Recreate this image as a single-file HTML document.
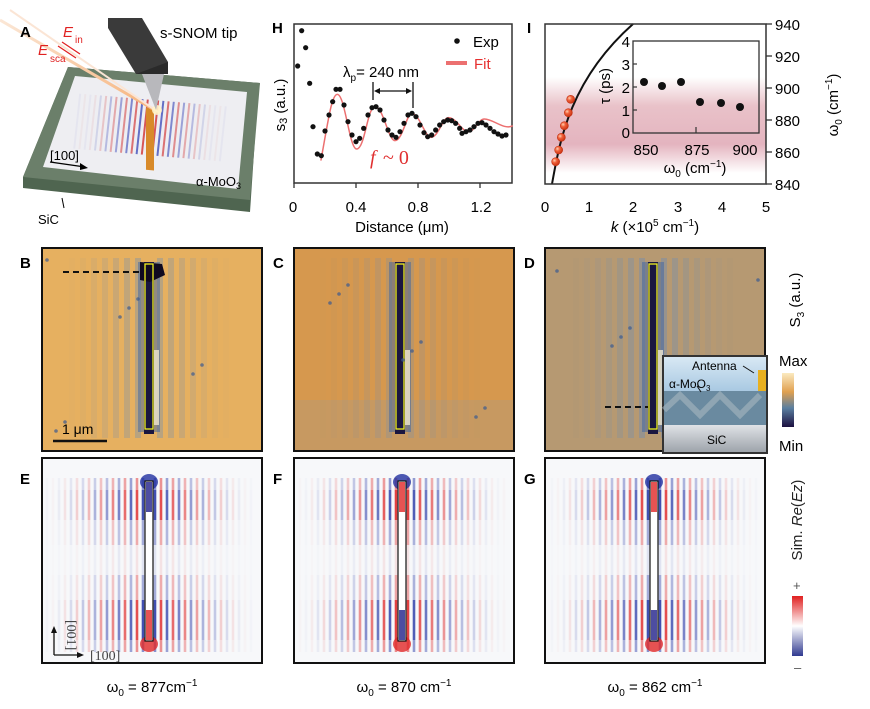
<!DOCTYPE html>
<html><head><meta charset="utf-8"><style>
html,body{margin:0;padding:0;background:#fff}
body{width:870px;height:709px;position:relative;overflow:hidden;font-family:"Liberation Sans",sans-serif}
svg{position:absolute;left:0;top:0}
</style></head><body>
<svg id="s" width="870" height="709" viewBox="0 0 870 709" font-family="Liberation Sans, sans-serif">
<defs>
<linearGradient id="pink" x1="0" y1="0" x2="0" y2="1">
<stop offset="0" stop-color="#fff"/><stop offset="0.3" stop-color="#e9c2c9"/><stop offset="0.7" stop-color="#e4b4bf"/><stop offset="1" stop-color="#fff"/></linearGradient>
<linearGradient id="cbar1" x1="0" y1="0" x2="0" y2="1"><stop offset="0" stop-color="#fbeac0"/><stop offset="0.35" stop-color="#e0a050"/><stop offset="0.65" stop-color="#5a7fa0"/><stop offset="1" stop-color="#1c1040"/></linearGradient>
<linearGradient id="cbar2" x1="0" y1="0" x2="0" y2="1"><stop offset="0" stop-color="#e02020"/><stop offset="0.5" stop-color="#ffffff"/><stop offset="1" stop-color="#303a90"/></linearGradient>
<linearGradient id="ins" x1="0" y1="0" x2="0" y2="1"><stop offset="0" stop-color="#d8e8f4"/><stop offset="1" stop-color="#a9c9e2"/></linearGradient>
<linearGradient id="sic" x1="0" y1="0" x2="0" y2="1"><stop offset="0" stop-color="#dfe2e6"/><stop offset="1" stop-color="#9ea4ab"/></linearGradient>
<linearGradient id="beam" x1="0" y1="0" x2="1" y2="1"><stop offset="0" stop-color="#fbe7d6"/><stop offset="1" stop-color="#f6b27a"/></linearGradient>
<radialGradient id="ball" cx="0.35" cy="0.35" r="0.7"><stop offset="0" stop-color="#ffd0b0"/><stop offset="0.4" stop-color="#f0603a"/><stop offset="1" stop-color="#c83010"/></radialGradient>
</defs>

<!-- Panel A -->
<polygon points="68,67 260,83 258,93 250,212 23,188 23,177" fill="#4f6550"/>
<polygon points="68,67 260,83 250,200 23,177" fill="#6b7f6a"/>
<polygon points="75,76 247,92 238,189 43,167" fill="#eeeef2"/>
<g id="astripes"></g>
<rect x="146" y="95" width="8" height="62" fill="#d88a2a" transform="skewY(5)"/>
<line x1="0" y1="20" x2="158" y2="112" stroke="url(#beam)" stroke-width="3"/>
<line x1="10" y1="10" x2="158" y2="112" stroke="#fbe5d5" stroke-width="2"/>
<circle cx="157" cy="110" r="5" fill="#fff3c8" opacity="0.9"/>
<polygon points="108,18 142,18 168,62 168,74 136,74 108,28" fill="#3a3a3a"/>
<polygon points="136,74 168,74 168,62" fill="#2a2a2a"/>
<polygon points="142,74 164,74 156,110" fill="#b8b8bc"/>
<text x="20" y="37" font-size="15" font-weight="bold">A</text>
<text x="160" y="38" font-size="15">s-SNOM tip</text>
<text x="63" y="37" font-size="15" fill="#e02020" font-style="italic">E</text><text x="75" y="43" font-size="10" fill="#e02020">in</text>
<text x="38" y="55" font-size="15" fill="#e02020" font-style="italic">E</text><text x="50" y="62" font-size="10" fill="#e02020">sca</text>
<line x1="62" y1="42" x2="80" y2="54" stroke="#e02020" stroke-width="1.2"/><line x1="58" y1="46" x2="76" y2="58" stroke="#e02020" stroke-width="1.2"/>
<text x="50" y="160" font-size="13">[100]</text>
<line x1="50" y1="162" x2="85" y2="167" stroke="#000" stroke-width="1.3"/><polygon points="88,168 80,163 80,170" fill="#000"/>
<text x="196" y="186" font-size="13">α-MoO<tspan font-size="9" dy="3">3</tspan></text>
<line x1="62" y1="198" x2="64" y2="208" stroke="#000"/>
<text x="38" y="224" font-size="13">SiC</text>

<!-- Panel H -->
<text x="272" y="33" font-size="15" font-weight="bold">H</text>
<rect x="294" y="24" width="218" height="159" fill="none" stroke="#333" stroke-width="1.5"/>
<path id="fit" fill="none" stroke="#ec7070" stroke-width="4.5" stroke-linecap="round"
 d="M183,480 C205,360 215,283 232,283 C255,283 268,447 290,447 C315,447 322,320 345,320 C370,320 385,422 405,422 C428,422 440,340 455,340 C478,340 495,412 513,412 C535,412 548,353 565,353 C590,353 605,395 625,395 C645,395 655,357 673,357 C700,357 730,390 757,378" transform="translate(260,0) scale(0.3333)"/>
<g id="hdots" fill="#111"></g>
<g stroke="#333" stroke-width="1.3"><line x1="294" y1="183" x2="294" y2="188"/><line x1="356" y1="183" x2="356" y2="188"/><line x1="418" y1="183" x2="418" y2="188"/><line x1="480" y1="183" x2="480" y2="188"/></g>
<g font-size="15" text-anchor="middle"><text x="293" y="212">0</text><text x="356" y="212">0.4</text><text x="418" y="212">0.8</text><text x="481" y="212">1.2</text>
<text x="402" y="232">Distance (μm)</text></g>
<text transform="translate(285,105) rotate(-90)" font-size="15" text-anchor="middle">s<tspan font-size="11" dy="2">3</tspan><tspan dy="-2"> (a.u.)</tspan></text>
<circle cx="457" cy="41" r="2.8" fill="#111"/><text x="473" y="47" font-size="15">Exp</text>
<line x1="446" y1="63" x2="467" y2="63" stroke="#ec7070" stroke-width="4"/><text x="474" y="69" font-size="15" fill="#e63030">Fit</text>
<text x="343" y="77" font-size="15">λ<tspan font-size="10" dy="4">p</tspan><tspan dy="-4">= 240 nm</tspan></text>
<line x1="373" y1="82" x2="373" y2="100" stroke="#111" stroke-width="1.3"/><line x1="413" y1="82" x2="413" y2="108" stroke="#111" stroke-width="1.3"/>
<line x1="377" y1="91" x2="409" y2="91" stroke="#111" stroke-width="1.3"/><polygon points="374,91 380,88 380,94" fill="#111"/><polygon points="412,91 406,88 406,94" fill="#111"/>
<text x="370" y="164" font-size="20" fill="#e03030" font-family="Liberation Serif, serif" font-style="italic">f</text><text x="383" y="164" font-size="20" fill="#e03030" font-family="Liberation Serif, serif">~ 0</text>

<!-- Panel I -->
<text x="527" y="33" font-size="15" font-weight="bold">I</text>
<rect x="545" y="77" width="221" height="96" fill="url(#pink)"/>
<path d="M552,184 C560,140 570,80 633,24" fill="none" stroke="#111" stroke-width="2"/>
<g id="ibal"></g>
<rect x="545" y="24" width="221" height="160" fill="none" stroke="#333" stroke-width="1.5"/>
<g stroke="#333" stroke-width="1.3"><line x1="766" y1="24" x2="772" y2="24"/><line x1="766" y1="56" x2="772" y2="56"/><line x1="766" y1="88" x2="772" y2="88"/><line x1="766" y1="120" x2="772" y2="120"/><line x1="766" y1="152" x2="772" y2="152"/><line x1="766" y1="184" x2="772" y2="184"/></g>
<g font-size="15"><text x="775" y="30">940</text><text x="775" y="62">920</text><text x="775" y="94">900</text><text x="775" y="126">880</text><text x="775" y="158">860</text><text x="775" y="190">840</text></g>
<g font-size="15" text-anchor="middle"><text x="545" y="212">0</text><text x="589" y="212">1</text><text x="633" y="212">2</text><text x="678" y="212">3</text><text x="722" y="212">4</text><text x="766" y="212">5</text>
<text x="655" y="232"><tspan font-style="italic">k</tspan> (×10<tspan font-size="10" dy="-6">5</tspan><tspan dy="6"> cm</tspan><tspan font-size="10" dy="-6">−1</tspan><tspan dy="6">)</tspan></text></g>
<text transform="translate(838,105) rotate(-90)" font-size="15" text-anchor="middle">ω<tspan font-size="10" dy="4">0</tspan><tspan dy="-4"> (cm</tspan><tspan font-size="10" dy="-6">−1</tspan><tspan dy="6">)</tspan></text>
<rect x="633" y="41" width="126" height="92" fill="none" stroke="#333" stroke-width="1.3"/>
<g font-size="15" text-anchor="end"><text x="630" y="47">4</text><text x="630" y="70">3</text><text x="630" y="93">2</text><text x="630" y="116">1</text><text x="630" y="138">0</text></g>
<g stroke="#333" stroke-width="1.2"><line x1="633" y1="64" x2="637" y2="64"/><line x1="633" y1="87" x2="637" y2="87"/><line x1="633" y1="110" x2="637" y2="110"/><line x1="696" y1="133" x2="696" y2="127"/></g>
<g font-size="15" text-anchor="middle"><text x="646" y="155">850</text><text x="697" y="155">875</text><text x="745" y="155">900</text>
<text x="695" y="173">ω<tspan font-size="10" dy="4">0</tspan><tspan dy="-4"> (cm</tspan><tspan font-size="10" dy="-6">−1</tspan><tspan dy="6">)</tspan></text></g>
<text transform="translate(610,86) rotate(-90)" font-size="15" text-anchor="middle">τ (ps)</text>
<g fill="#111"><circle cx="644" cy="82" r="4"/><circle cx="662" cy="86" r="4"/><circle cx="681" cy="82" r="4"/><circle cx="700" cy="102" r="4"/><circle cx="721" cy="103" r="4"/><circle cx="740" cy="107" r="4"/></g>

<!-- Row B C D -->
<g id="bcd"></g>
<text x="20" y="268" font-size="15" font-weight="bold">B</text>
<text x="273" y="268" font-size="15" font-weight="bold">C</text>
<text x="524" y="268" font-size="15" font-weight="bold">D</text>
<line x1="63" y1="272" x2="143" y2="272" stroke="#111" stroke-width="2" stroke-dasharray="6,4"/>
<line x1="605" y1="407" x2="648" y2="407" stroke="#111" stroke-width="2" stroke-dasharray="6,4"/>
<line x1="53" y1="441" x2="107" y2="441" stroke="#111" stroke-width="2.5"/>
<text x="62" y="434" font-size="14">1 μm</text>
<rect x="662" y="355" width="106" height="99" fill="#333"/>
<rect x="664" y="357" width="102" height="34" fill="url(#ins)"/>
<rect x="664" y="391" width="102" height="34" fill="#6a8aa0"/>
<path d="M664,410 L680,395 L700,415 L720,395 L740,415 L760,395" stroke="#a8b8c0" stroke-width="6" fill="none" opacity="0.6"/>
<rect x="758" y="370" width="8" height="21" fill="#e8b020"/>
<rect x="664" y="425" width="102" height="27" fill="url(#sic)"/>
<text x="692" y="370" font-size="12">Antenna</text>
<text x="669" y="388" font-size="12">α-MoO<tspan font-size="8" dy="3">3</tspan></text>
<text x="707" y="444" font-size="12">SiC</text>
<line x1="743" y1="366" x2="754" y2="373" stroke="#111"/><line x1="697" y1="386" x2="701" y2="392" stroke="#111"/>
<rect x="782" y="373" width="12" height="54" fill="url(#cbar1)"/>
<text x="779" y="366" font-size="15">Max</text><text x="779" y="451" font-size="15">Min</text>
<text transform="translate(800,300) rotate(-90)" font-size="15" text-anchor="middle">S<tspan font-size="10" dy="4">3</tspan><tspan dy="-4"> (a.u.)</tspan></text>

<!-- Row E F G -->
<g id="efg"></g>
<text x="20" y="484" font-size="15" font-weight="bold">E</text>
<text x="273" y="484" font-size="15" font-weight="bold">F</text>
<text x="524" y="484" font-size="15" font-weight="bold">G</text>
<line x1="54" y1="655" x2="54" y2="630" stroke="#111" stroke-width="1.3"/><polygon points="54,626 51,633 57,633" fill="#111"/>
<line x1="54" y1="655" x2="80" y2="655" stroke="#111" stroke-width="1.3"/><polygon points="84,655 77,652 77,658" fill="#111"/>
<text x="90" y="660" font-size="14" font-family="Liberation Serif, serif" fill="#444">[100]</text>
<text transform="translate(67,620) rotate(90)" font-size="14" font-family="Liberation Serif, serif" fill="#444">[001]</text>
<rect x="792" y="596" width="11" height="60" fill="url(#cbar2)"/>
<text x="793" y="590" font-size="13" fill="#555">+</text><text x="794" y="672" font-size="13" fill="#555">–</text>
<text transform="translate(802,520) rotate(-90)" font-size="15" text-anchor="middle" fill="#222">Sim. <tspan font-style="italic">Re</tspan>(<tspan font-style="italic">Ez</tspan>)</text>
<g font-size="15" text-anchor="middle">
<text x="152" y="692">ω<tspan font-size="10" dy="4">0</tspan><tspan dy="-4"> = 877cm</tspan><tspan font-size="10" dy="-6">−1</tspan></text>
<text x="404" y="692">ω<tspan font-size="10" dy="4">0</tspan><tspan dy="-4"> = 870 cm</tspan><tspan font-size="10" dy="-6">−1</tspan></text>
<text x="655" y="692">ω<tspan font-size="10" dy="4">0</tspan><tspan dy="-4"> = 862 cm</tspan><tspan font-size="10" dy="-6">−1</tspan></text></g>
</svg>
<script>
const NS="http://www.w3.org/2000/svg";
function el(t,a,p){const e=document.createElementNS(NS,t);for(const k in a)e.setAttribute(k,a[k]);p.appendChild(e);return e;}
const hd=[[113,198],[125,92],[137,143],[149,250],[159,380],[172,462],[184,467],[195,393],[207,345],[218,305],[228,268],[240,268],[252,315],[264,365],[276,405],[288,425],[299,415],[311,385],[324,345],[336,323],[348,320],[360,330],[372,360],[384,390],[396,405],[408,412],[420,395],[432,370],[444,345],[456,340],[468,350],[480,375],[492,398],[503,410],[515,405],[527,390],[539,375],[551,365],[563,360],[575,362],[587,370],[599,385],[606,400],[618,395],[630,390],[642,380],[654,370],[666,368],[678,375],[690,385],[702,395],[714,402],[726,408],[738,405]];
const g=document.getElementById("hdots");
hd.forEach(p=>el("circle",{cx:260+p[0]/3,cy:p[1]/3,r:2.6},g));
const ib=[[122,298],[115,338],[103,377],[94,412],[86,450],[77,485]];
const gi=document.getElementById("ibal");
ib.forEach(p=>el("circle",{cx:530+p[0]/3,cy:p[1]/3,r:4,fill:"url(#ball)",stroke:"#c03010","stroke-width":0.6},gi));
const as=document.getElementById("astripes");
for(let i=-14;i<=14;i++){if(i==0)continue;const x=150+i*5.2;const a=Math.max(0.05,1-Math.abs(i)/12)*0.8;
el("line",{x1:x+3,y1:100+i*0.45,x2:x-3,y2:155+i*0.45,stroke:(i%2?"#d02020":"#2030b0"),"stroke-width":2,opacity:a},as);}
const bcd=document.getElementById("bcd");
const P=[{x:42,bg:"#e6b060",ant:145,bs:0.45},{x:294,bg:"#d6984e",ant:396,bs:0.3},{x:545,bg:"#cf9a58",ant:649,bs:0.5}];
P.forEach((p,k)=>{
 el("rect",{x:p.x,y:248,width:220,height:203,fill:p.bg},bcd);
 if(k==2){el("rect",{x:p.x,y:248,width:220,height:203,fill:"#7e98b0",opacity:0.3},bcd);}
 if(k==1){el("rect",{x:p.x,y:400,width:220,height:50,fill:"#8ea0b0",opacity:0.2},bcd);}
 for(let i=-8;i<=8;i++){if(i==0)continue;const x=p.ant+4+i*11;const a=p.bs*Math.pow(Math.max(0,1-Math.abs(i)/8),1.5);
  el("rect",{x:x-3,y:258,width:6,height:180,fill:"#6a8cb8",opacity:a},bcd);}
 el("rect",{x:p.ant-7,y:262,width:22,height:170,fill:"#3060a8",opacity:0.45},bcd);
 el("rect",{x:p.ant-1,y:262,width:10,height:172,fill:"#1a1640"},bcd);
 el("rect",{x:p.ant+9,y:350,width:5,height:75,fill:"#fff5d8",opacity:0.7},bcd);
 if(k==0){el("path",{d:"M140,262 L162,264 L165,275 L150,282 L140,280Z",fill:"#100a20"},bcd);}
 el("rect",{x:p.ant,y:264,width:8,height:165,fill:"none",stroke:"#f0f020","stroke-width":1.3},bcd);
 for(let j=0;j<8;j++){el("circle",{cx:p.x+((j*73+k*31)%210)+5,cy:260+((j*57+k*43)%180),r:1.8,fill:"#3a5a90",opacity:0.7},bcd);}
 el("rect",{x:p.x,y:248,width:220,height:203,fill:"none",stroke:"#111","stroke-width":2},bcd);
});
const efg=document.getElementById("efg");
const Q=[{x:42,ant:145},{x:294,ant:398},{x:545,ant:650}];
const segs=[[478,490,0.6],[490,520,1],[520,545,0.45],[545,575,0.12],[575,600,0.45],[600,640,1],[640,652,0.6]];
Q.forEach((q,k)=>{
 el("rect",{x:q.x,y:458,width:220,height:205,fill:"#f7f8fa"},efg);
 for(let i=-17;i<=17;i++){if(i==0)continue;const x=q.ant+4+i*6;const a=Math.pow(Math.max(0.05,1-Math.abs(i)/17),1.3)*0.95;
  const c=((i+(k==1?1:0))%2==0)?"#e02828":"#2838a8";
  segs.forEach(s=>el("line",{x1:x,y1:s[0],x2:x,y2:s[1],stroke:c,"stroke-width":2.6,opacity:a*s[2]},efg));}
 el("ellipse",{cx:q.ant+4,cy:482,rx:9,ry:8,fill:"#2030a0",opacity:0.8},efg);
 el("ellipse",{cx:q.ant+4,cy:644,rx:9,ry:8,fill:"#e02828",opacity:0.8},efg);
 el("rect",{x:q.ant,y:481,width:8,height:160,fill:"#fff",stroke:"#111","stroke-width":1.2},efg);
 el("rect",{x:q.ant+1,y:482,width:6,height:30,fill:(k==0?"#20208a":"#e02828"),opacity:0.8},efg);
 el("rect",{x:q.ant+1,y:610,width:6,height:30,fill:(k==0?"#e02828":"#20208a"),opacity:0.8},efg);
 el("rect",{x:q.x,y:458,width:220,height:205,fill:"none",stroke:"#111","stroke-width":2},efg);
});
</script>
</body></html>
